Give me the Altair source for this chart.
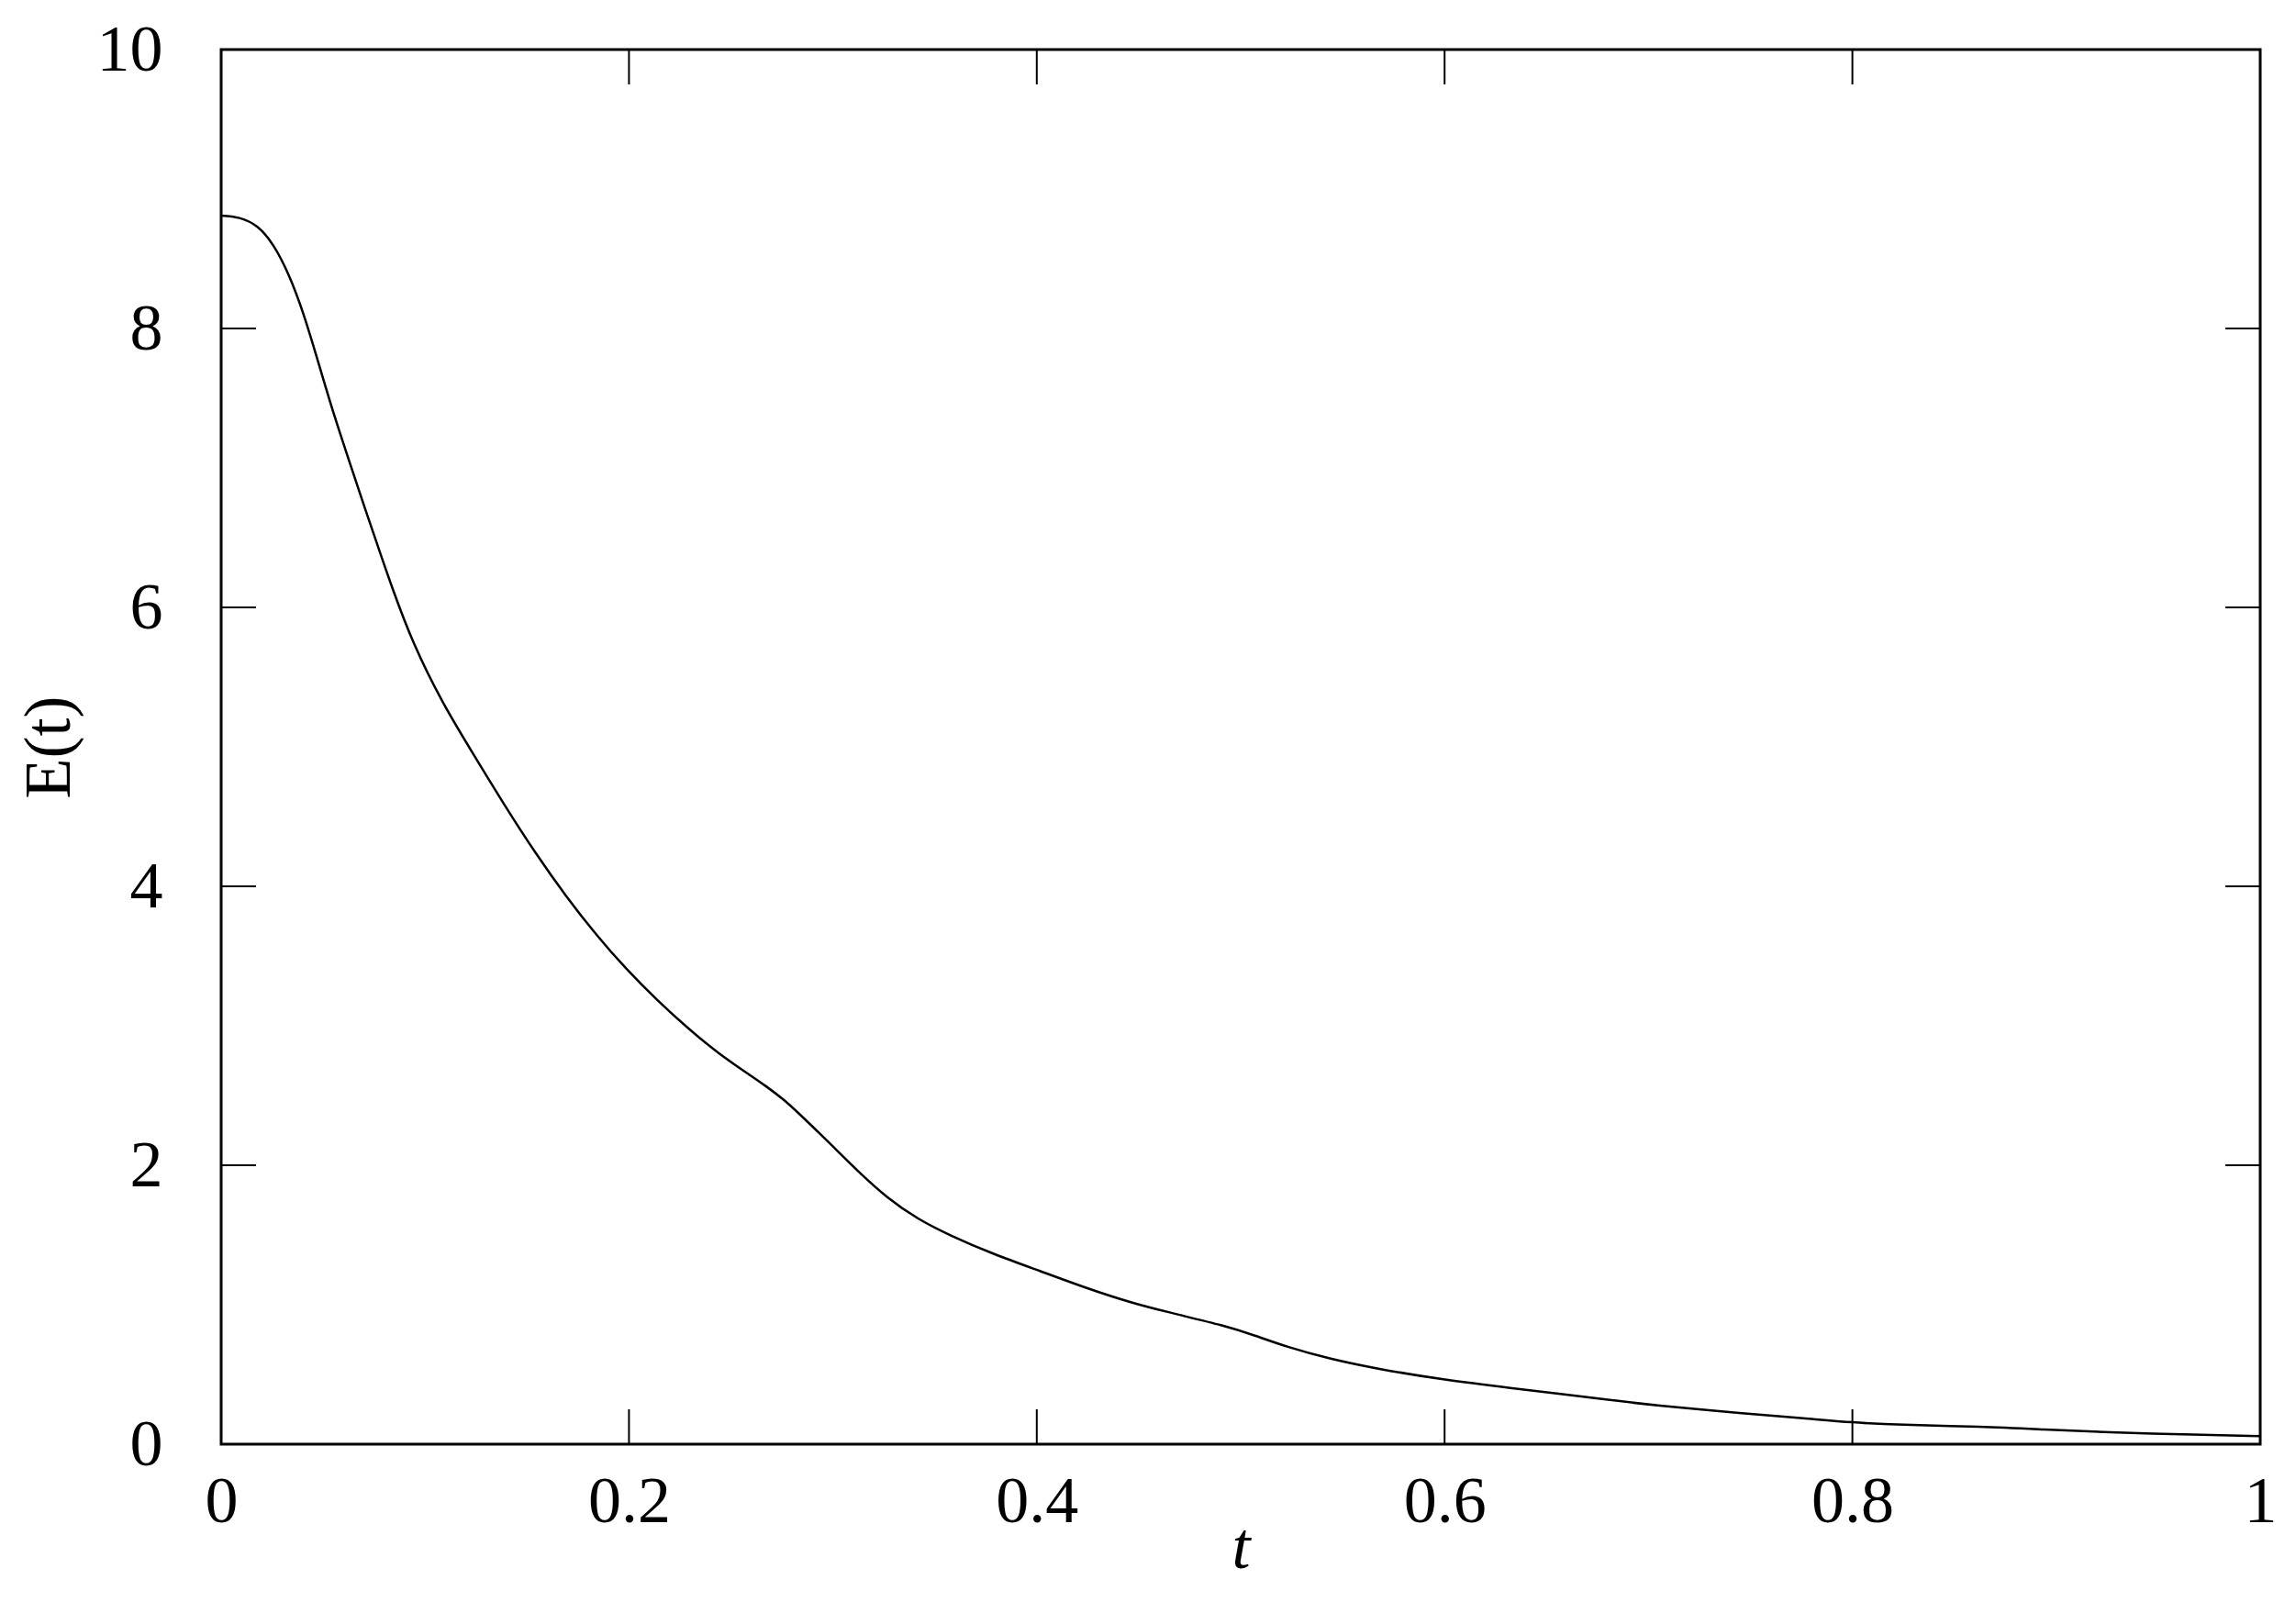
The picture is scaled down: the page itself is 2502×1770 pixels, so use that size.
import altair as alt
import pandas as pd

# ---- data ----
t_values = [0.0, 0.009, 0.018, 0.0255, 0.033, 0.0405, 0.048, 0.0555, 0.063, 0.0705,
            0.0773, 0.0836, 0.094, 0.109, 0.124, 0.139, 0.154, 0.169, 0.184, 0.199,
            0.214, 0.229, 0.244, 0.259, 0.267, 0.276, 0.282, 0.297, 0.312, 0.327,
            0.342, 0.357, 0.379, 0.402, 0.424, 0.447, 0.469, 0.492, 0.507, 0.522,
            0.544, 0.567, 0.600, 0.634, 0.657, 0.679, 0.702, 0.747, 0.777, 0.800,
            0.822, 0.864, 0.894, 0.924, 0.969, 1.0]
e_values = [8.81, 8.80, 8.74, 8.61, 8.40, 8.11, 7.74, 7.37, 7.04, 6.71,
            6.42, 6.15, 5.74, 5.30, 4.94, 4.58, 4.24, 3.93, 3.65, 3.40,
            3.18, 2.98, 2.80, 2.65, 2.57, 2.47, 2.39, 2.18, 1.96, 1.76,
            1.61, 1.50, 1.36, 1.24, 1.12, 1.01, 0.93, 0.85, 0.78, 0.70,
            0.61, 0.54, 0.46, 0.40, 0.36, 0.32, 0.28, 0.22, 0.185, 0.155,
            0.138, 0.127, 0.105, 0.085, 0.067, 0.058]
x_ticks = [0, 0.2, 0.4, 0.6, 0.8, 1.0]
y_ticks = [0, 2, 4, 6, 8, 10]
x_title = "t"
y_title = "E(t)"

W, H = 2222, 1520
TICK = 38
FONT = "Liberation Serif"
FS = 72

curve = pd.DataFrame({"t": t_values, "E": e_values})
xt = pd.DataFrame({"t": x_ticks})
yt = pd.DataFrame({"E": y_ticks})

xscale = alt.Scale(domain=[0, 1], nice=False, zero=False)
yscale = alt.Scale(domain=[0, 10], nice=False, zero=False)

x_axis = alt.Axis(values=x_ticks, format="~g", tickSize=0, ticks=False, domain=False, grid=False,
                  labelPadding=27, labelFontSize=FS, labelFont=FONT, labelColor="black",
                  labelFlush=False, labelOverlap=False, labelBound=False,
                  title=x_title, titleFont=FONT, titleFontStyle="italic", titleFontWeight="normal",
                  titleFontSize=FS, titleColor="black", titleX=W / 2, titleY=134,
                  titleBaseline="alphabetic", titleAlign="center")
y_axis = alt.Axis(values=y_ticks, format="d", tickSize=0, ticks=False, domain=False, grid=False,
                  labelPadding=64, labelFontSize=FS, labelFont=FONT, labelColor="black",
                  labelFlush=False, labelOverlap=False, labelBound=False,
                  title=y_title, titleFont=FONT, titleFontWeight="normal",
                  titleFontSize=FS, titleColor="black", titleAngle=270, titleX=-166, titleY=H / 2,
                  titleBaseline="alphabetic", titleAlign="center")

line = alt.Chart(curve).mark_line(color="black", strokeWidth=2.5, interpolate="basis").encode(
    x=alt.X("t:Q", scale=xscale, axis=x_axis),
    y=alt.Y("E:Q", scale=yscale, axis=y_axis),
)

rule_style = dict(color="black", strokeWidth=2)
bottom_ticks = alt.Chart(xt).mark_rule(**rule_style).encode(
    x=alt.X("t:Q", scale=xscale, axis=x_axis), y=alt.value(H), y2=alt.value(H - TICK))
top_ticks = alt.Chart(xt).mark_rule(**rule_style).encode(
    x=alt.X("t:Q", scale=xscale, axis=x_axis), y=alt.value(0), y2=alt.value(TICK))
left_ticks = alt.Chart(yt).mark_rule(**rule_style).encode(
    y=alt.Y("E:Q", scale=yscale, axis=y_axis), x=alt.value(0), x2=alt.value(TICK))
right_ticks = alt.Chart(yt).mark_rule(**rule_style).encode(
    y=alt.Y("E:Q", scale=yscale, axis=y_axis), x=alt.value(W - TICK), x2=alt.value(W))

chart = alt.layer(line, bottom_ticks, top_ticks, left_ticks, right_ticks).properties(
    width=W, height=H,
    autosize=alt.AutoSizeParams(type="none"),
    padding={"left": 233, "top": 46, "right": 31, "bottom": 188},
    background="white",
).configure_view(stroke="black", strokeWidth=3)

chart.save("out.html", embed_options={"renderer": "svg", "actions": False})
